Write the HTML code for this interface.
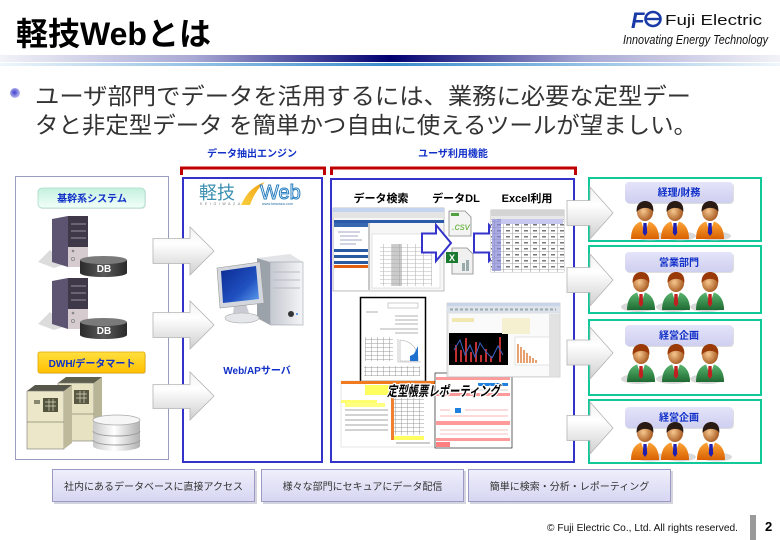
<!DOCTYPE html>
<html><head><meta charset="utf-8">
<style>
html,body{margin:0;padding:0;background:#fff;}
svg{display:block;}
text{font-family:"Liberation Sans","Noto Sans CJK JP",sans-serif;}
.bl{fill:#1030c8;font-weight:bold;font-size:10px;}
</style></head><body>
<svg width="780" height="540" viewBox="0 0 780 540" xmlns="http://www.w3.org/2000/svg">
<defs>
 <linearGradient id="bar" x1="0" x2="1" y1="0" y2="0">
  <stop offset="0" stop-color="#f2f2f8"/>
  <stop offset="0.25" stop-color="#a8a8d4"/>
  <stop offset="0.5" stop-color="#000070"/>
  <stop offset="0.75" stop-color="#a8a8d4"/>
  <stop offset="1" stop-color="#f2f2f8"/>
 </linearGradient>
 <linearGradient id="bar2" x1="0" x2="1" y1="0" y2="0">
  <stop offset="0" stop-color="#eef6fc"/>
  <stop offset="0.5" stop-color="#3a8ccc"/>
  <stop offset="1" stop-color="#eef6fc"/>
 </linearGradient>
 <radialGradient id="bul" cx="0.45" cy="0.45" r="0.6">
  <stop offset="0" stop-color="#4040d0"/>
  <stop offset="1" stop-color="#c8c8f0"/>
 </radialGradient>
 <linearGradient id="arr" x1="0" y1="0" x2="0" y2="1">
  <stop offset="0" stop-color="#f0f0f0"/>
  <stop offset="0.35" stop-color="#ffffff"/>
  <stop offset="1" stop-color="#cfcfcf"/>
 </linearGradient>
 <linearGradient id="mint" x1="0" y1="0" x2="0" y2="1">
  <stop offset="0" stop-color="#c4f0de"/>
  <stop offset="1" stop-color="#f2fffa"/>
 </linearGradient>
 <linearGradient id="gold" x1="0" y1="0" x2="0" y2="1">
  <stop offset="0" stop-color="#ffe040"/>
  <stop offset="1" stop-color="#ffbf00"/>
 </linearGradient>
 <linearGradient id="lav" x1="0" y1="0" x2="0" y2="1">
  <stop offset="0" stop-color="#e4e4fa"/>
  <stop offset="1" stop-color="#cfcff0"/>
 </linearGradient>
 <linearGradient id="btn" x1="0" y1="0" x2="0" y2="1">
  <stop offset="0" stop-color="#efeffc"/>
  <stop offset="1" stop-color="#d6d6f2"/>
 </linearGradient>
 <linearGradient id="db" x1="0" y1="0" x2="1" y2="0">
  <stop offset="0" stop-color="#2a2a2a"/>
  <stop offset="0.5" stop-color="#5a5a5a"/>
  <stop offset="1" stop-color="#2a2a2a"/>
 </linearGradient>
 <linearGradient id="disk" x1="0" y1="0" x2="1" y2="0">
  <stop offset="0" stop-color="#c8c8c8"/>
  <stop offset="0.45" stop-color="#ffffff"/>
  <stop offset="1" stop-color="#b0b0b0"/>
 </linearGradient>
 <linearGradient id="scr" x1="0" y1="0" x2="1" y2="1">
  <stop offset="0" stop-color="#0a2a90"/>
  <stop offset="0.6" stop-color="#2050c0"/>
  <stop offset="1" stop-color="#60a0f0"/>
 </linearGradient>
 <linearGradient id="twr" x1="0" y1="0" x2="1" y2="0">
  <stop offset="0" stop-color="#c4c8d0"/>
  <stop offset="1" stop-color="#f4f5f7"/>
 </linearGradient>
 <linearGradient id="org" x1="0" y1="0" x2="0" y2="1">
  <stop offset="0" stop-color="#ffa83a"/>
  <stop offset="1" stop-color="#d86000"/>
 </linearGradient>
 <linearGradient id="grn" x1="0" y1="0" x2="0" y2="1">
  <stop offset="0" stop-color="#5cb870"/>
  <stop offset="1" stop-color="#1e6a32"/>
 </linearGradient>
 <radialGradient id="skin" cx="0.4" cy="0.45" r="0.6">
  <stop offset="0" stop-color="#f6c890"/>
  <stop offset="1" stop-color="#a85a20"/>
 </radialGradient>
 <linearGradient id="swo" x1="0" y1="1" x2="1" y2="0">
  <stop offset="0" stop-color="#f8d040"/>
  <stop offset="1" stop-color="#f0a010"/>
 </linearGradient>
 <pattern id="grid" width="8" height="4" patternUnits="userSpaceOnUse">
  <rect width="8" height="4" fill="#fff"/>
  <path d="M0,3.5H8M7.5,0V4" stroke="#b8b8b8" stroke-width="0.6"/>
 </pattern>
 <pattern id="grid2" width="9" height="6" patternUnits="userSpaceOnUse">
  <rect width="9" height="6" fill="#fff"/>
  <path d="M0,5.5H9M8.5,0V6" stroke="#a8a8a8" stroke-width="0.6"/>
  <rect x="2" y="2" width="4" height="1.5" fill="#777"/>
 </pattern>
 <pattern id="grid3" width="6" height="4" patternUnits="userSpaceOnUse">
  <rect width="6" height="4" fill="#fff"/>
  <path d="M0,3.5H6M5.5,0V4" stroke="#999" stroke-width="0.5"/>
 </pattern>
 <g id="pO">
  <ellipse cx="5" cy="24" rx="16" ry="4.5" fill="#c8c8c8" opacity="0.7"/>
  <path d="M-14,27 C-14,15 -8,9 0,9 C8,9 14,15 14,27 Z" fill="url(#org)"/>
  <path d="M-4,9 L0,21 L4,9 Z" fill="#fff"/>
  <path d="M-1.6,11 L1.6,11 L2.2,21 L0,24 L-2.2,21 Z" fill="#2020b0"/>
  <ellipse cx="0" cy="0" rx="8" ry="9" fill="url(#skin)"/>
  <path d="M-8.3,0 C-9,-8 -4,-11 0,-11 C5,-11 9,-8 8.3,0 C6,-5 -4,-6 -8.3,0 Z" fill="#2a1a14"/>
 </g>
 <g id="pG">
  <ellipse cx="-3" cy="24" rx="17" ry="5" fill="#c8c8c8" opacity="0.7"/>
  <path d="M-14,27 C-14,15 -8,9 0,9 C8,9 14,15 14,27 Z" fill="url(#grn)"/>
  <path d="M-4,9 L0,21 L4,9 Z" fill="#fff"/>
  <path d="M-1.6,11 L1.6,11 L2.2,21 L0,24 L-2.2,21 Z" fill="#c02020"/>
  <ellipse cx="0" cy="0" rx="8" ry="9" fill="url(#skin)"/>
  <path d="M-8.3,0 C-9,-8 -4,-11 0,-11 C5,-11 9,-8 8.3,0 C6,-5 -4,-6 -8.3,0 Z" fill="#9a3a08"/>
 </g>
 <g id="tower">
  <polygon points="38,262 50,250 66,264 54,268" fill="#dcdcdc"/>
  <polygon points="52,219 68,216 68,267 52,262" fill="#5c5470"/>
  <rect x="68" y="216" width="20" height="51" fill="#3e3848"/>
  <rect x="68" y="247" width="20" height="20" fill="#d6cccf"/>
  <path d="M71,224H86M71,231H86M71,238H86" stroke="#9a90a0" stroke-width="1"/>
  <circle cx="73" cy="251" r="1.3" fill="#888"/>
  <circle cx="73" cy="259" r="1.6" fill="none" stroke="#888" stroke-width="0.8"/>
 </g>
 <g id="dbc">
  <rect x="80" y="260" width="47" height="13" fill="url(#db)"/>
  <ellipse cx="103.5" cy="273" rx="23.5" ry="4" fill="url(#db)"/>
  <ellipse cx="103.5" cy="260" rx="23.5" ry="4" fill="#7a7a7a"/>
  <text x="104" y="272" text-anchor="middle" font-size="10" font-weight="bold" fill="#fff">DB</text>
 </g>
</defs>

<!-- Header -->
<text x="16" y="45" font-size="32" font-weight="bold" fill="#000">軽技Webとは</text>
<rect x="0" y="55" width="780" height="7" fill="url(#bar)"/>
<rect x="0" y="63" width="780" height="3" fill="url(#bar2)"/>

<!-- Logo -->
<text x="631" y="28" font-size="22" font-weight="bold" font-style="italic" fill="#1a3aa8">F</text>
<ellipse cx="653" cy="19" rx="7.5" ry="7" fill="none" stroke="#1a3aa8" stroke-width="2.6"/>
<path d="M645,19H660" stroke="#1a3aa8" stroke-width="2.4"/>
<text x="665" y="25" font-size="15" fill="#111" textLength="97" lengthAdjust="spacingAndGlyphs">Fuji Electric</text>
<text x="623" y="44" font-size="13" font-style="italic" fill="#111" textLength="145" lengthAdjust="spacingAndGlyphs">Innovating Energy Technology</text>

<!-- Bullet -->
<circle cx="15" cy="93" r="5" fill="url(#bul)"/>
<text x="35" y="104" font-size="23" fill="#333" textLength="656" lengthAdjust="spacingAndGlyphs">ユーザ部門でデータを活用するには、業務に必要な定型デー</text>
<text x="35" y="133" font-size="23" fill="#333" textLength="662" lengthAdjust="spacingAndGlyphs">タと非定型データ を簡単かつ自由に使えるツールが望ましい。</text>

<!-- Section labels & brackets -->
<text x="252" y="157" text-anchor="middle" class="bl" font-size="9">データ抽出エンジン</text>
<text x="453" y="157" text-anchor="middle" class="bl" font-size="9">ユーザ利用機能</text>
<path d="M181.5,175V168H324.5V175" fill="none" stroke="#c00000" stroke-width="3"/>
<path d="M331.5,175V168H575.5V175" fill="none" stroke="#c00000" stroke-width="3"/>

<!-- Panels -->
<rect x="15.5" y="176.5" width="153" height="283" fill="#fff" stroke="#9a9cc0" stroke-width="1"/>
<rect x="183" y="178" width="139" height="284" fill="#fff" stroke="#3333cc" stroke-width="2"/>
<rect x="331" y="179" width="243" height="283" fill="#fff" stroke="#3333cc" stroke-width="2"/>

<!-- Left panel content -->
<rect x="39" y="189" width="107" height="20" rx="4" fill="#d8d8d8" opacity="0.6"/>
<rect x="38" y="188" width="107" height="20" rx="4" fill="url(#mint)" stroke="#a8dcc8" stroke-width="0.8"/>
<text x="92" y="202" text-anchor="middle" class="bl">基幹系システム</text>
<use href="#tower"/>
<use href="#dbc"/>
<use href="#tower" y="62"/>
<use href="#dbc" y="62"/>
<rect x="39" y="353" width="107" height="21" rx="2" fill="#d0d0d0" opacity="0.6"/>
<rect x="38" y="352" width="107" height="21" rx="2" fill="url(#gold)" stroke="#e0a800" stroke-width="0.8"/>
<text x="92" y="367" text-anchor="middle" class="bl">DWH/データマート</text>
<!-- cabinets -->
<polygon points="58,383 66,377 102,377 94,383" fill="#5e5e4c"/>
<rect x="58" y="383" width="36" height="58" fill="#e6e2c2" stroke="#777" stroke-width="0.6"/>
<polygon points="94,383 102,377 102,436 94,441" fill="#b8b496"/>
<rect x="74" y="390" width="15" height="14" fill="#5a5a44"/>
<path d="M76,394H87M76,398H87M80,391V403M84,391V403" stroke="#d8d8c0" stroke-width="0.7"/>
<path d="M58,414H94" stroke="#8a8870" stroke-width="0.8"/>
<polygon points="27,391 35,385 72,385 64,391" fill="#56564a"/>
<rect x="27" y="391" width="37" height="58" fill="#ebe7c8" stroke="#777" stroke-width="0.6"/>
<polygon points="64,391 72,385 72,443 64,449" fill="#bdb99a"/>
<rect x="43" y="398" width="15" height="14" fill="#55553f"/>
<path d="M45,402H56M45,406H56M49,399V411M53,399V411" stroke="#d8d8c0" stroke-width="0.7"/>
<path d="M27,422H64" stroke="#8a8870" stroke-width="0.8"/>
<rect x="34" y="400" width="6" height="4" fill="#888870"/>
<!-- disk -->
<rect x="93" y="420" width="47" height="26" fill="url(#disk)"/>
<ellipse cx="116.5" cy="446" rx="23.5" ry="5" fill="url(#disk)"/>
<path d="M93,431 A23.5,5 0 0 0 140,431 M93,440 A23.5,5 0 0 0 140,440" fill="none" stroke="#999" stroke-width="0.9"/>
<ellipse cx="116.5" cy="420" rx="23.5" ry="5" fill="#f6f6f6" stroke="#aaa" stroke-width="0.8"/>

<!-- Middle panel content -->
<text x="199" y="199" font-size="18" fill="#3a8fb0">軽技</text>
<text x="200" y="205" font-size="3.5" fill="#777" letter-spacing="2.6">KEIGIWAZA</text>
<path d="M241,205 C246,195 251,187 265,182 C257,189 253,197 250,205 Z" fill="url(#swo)"/>
<text x="260" y="199" font-size="20" fill="#fff" stroke="#2a80c0" stroke-width="1">Web</text>
<text x="262" y="205" font-size="3.8" fill="#2a70a0">www.keiwaza.com</text>
<!-- computer -->
<polygon points="257,258 290,254 303,262 270,262" fill="#e2e4e8"/>
<polygon points="257,258 270,262 270,325 257,318" fill="#9ca2aa"/>
<rect x="270" y="262" width="33" height="63" fill="url(#twr)" stroke="#a0a4aa" stroke-width="0.6"/>
<path d="M273,272H300M273,280H300M273,288H300" stroke="#b8bcc4" stroke-width="1"/>
<circle cx="291" cy="314" r="3" fill="#333"/>
<circle cx="297" cy="314" r="1" fill="#3a80e0"/>
<polygon points="234,305 246,304 249,313 233,314" fill="#c8ccd2"/>
<ellipse cx="242" cy="318" rx="17" ry="5" fill="#e4e6ea" stroke="#aaa" stroke-width="0.6"/>
<polygon points="217,268 260,262 264,303 220,308" fill="#d4d8de" stroke="#999" stroke-width="0.6"/>
<polygon points="221,271 256,266 259,299 223,303" fill="url(#scr)"/>
<text x="257" y="374" text-anchor="middle" class="bl">Web/APサーバ</text>

<!-- Right panel content -->
<text x="381" y="202" text-anchor="middle" font-size="11" font-weight="bold" fill="#000">データ検索</text>
<text x="456" y="202" text-anchor="middle" font-size="11" font-weight="bold" fill="#000">データDL</text>
<text x="527" y="202" text-anchor="middle" font-size="11" font-weight="bold" fill="#000">Excel利用</text>
<!-- screenshot 1 -->
<rect x="333" y="208" width="111" height="83" fill="#f6f6f6" stroke="#999" stroke-width="0.6"/>
<rect x="333" y="208" width="111" height="4" fill="#c4d4ee"/>
<rect x="333" y="212" width="111" height="6" fill="#e4e4e4"/>
<rect x="334" y="220" width="110" height="3" fill="#2a5aa8"/>
<rect x="334" y="223" width="34" height="67" fill="#fff"/>
<rect x="334" y="223" width="34" height="4" fill="#3a68b0"/>
<path d="M338,232H360M340,236H358M340,240H362M340,244H356" stroke="#a0a8c0" stroke-width="1"/>
<rect x="334" y="249" width="34" height="3" fill="#2a5aa0"/>
<rect x="334" y="255" width="34" height="3" fill="#2a5aa0"/>
<rect x="334" y="261" width="34" height="3" fill="#2a5aa0"/>
<rect x="334" y="265" width="34" height="3" fill="#e06010"/>
<rect x="368" y="223" width="2" height="67" fill="#c8c8c8"/>
<rect x="372" y="234" width="68" height="54" fill="#fff" stroke="#ccc" stroke-width="0.5"/>
<rect x="380" y="244" width="52" height="42" fill="url(#grid)"/>
<rect x="392" y="244" width="10" height="42" fill="#a0a0a0" opacity="0.55"/>
<!-- blue arrows -->
<polygon points="422,233.5 436,233.5 436,225 451,243 436,261 436,252.5 422,252.5" fill="#fff" stroke="#3333cc" stroke-width="2"/>
<polygon points="474,233.5 489,233.5 489,225 506,243 489,261 489,252.5 474,252.5" fill="#fff" stroke="#3333cc" stroke-width="2"/>
<!-- csv icon -->
<path d="M449,211 H465 L471,217 V236 H449 Z" fill="#f4f4f4" stroke="#888" stroke-width="0.8"/>
<rect x="451" y="213" width="8" height="3" fill="#50a040"/>
<text x="452" y="230" font-size="10" font-style="italic" fill="#60b030">.csv</text>
<!-- excel icon -->
<path d="M452,248 H467 L473,254 V274 H452 Z" fill="#f0f0f0" stroke="#888" stroke-width="0.8"/>
<rect x="446" y="252" width="12" height="11" fill="#1a7a30"/>
<text x="449" y="261" font-size="9" font-weight="bold" fill="#fff">X</text>
<rect x="462" y="263" width="3" height="8" fill="#9aa"/><rect x="466" y="260" width="3" height="11" fill="#9aa"/>
<!-- spreadsheet -->
<rect x="491" y="210" width="73" height="62" fill="#fff" stroke="#999" stroke-width="0.6"/>
<rect x="491" y="210" width="73" height="6" fill="#d4d4d4"/>
<rect x="491" y="216" width="73" height="3" fill="#e8e8e8"/>
<rect x="491" y="219" width="73" height="53" fill="url(#grid2)"/>
<rect x="492" y="219" width="9" height="52" fill="#8888d8" opacity="0.7"/>
<rect x="501" y="219" width="62" height="5" fill="#c8c8f0"/>
<!-- report doc -->
<rect x="360.5" y="297.5" width="65" height="84" fill="#fff" stroke="#000" stroke-width="1.5"/>
<rect x="388" y="303" width="30" height="5" fill="none" stroke="#999" stroke-width="0.5"/>
<path d="M366,312H378M395,316H418M395,320H418M395,324H418M380,329H418M395,333H418" stroke="#999" stroke-width="0.8"/>
<rect x="365" y="337" width="28" height="24" fill="url(#grid3)"/>
<path d="M398,339V362H421" fill="none" stroke="#aaa" stroke-width="0.6"/>
<path d="M400,340 C410,341 416,346 418,356 V361 H400 Z" fill="none" stroke="#aaa" stroke-width="0.6"/>
<path d="M410,361 V356 L414,354 L418,346 V361 Z" fill="#2070d0"/>
<rect x="364" y="366" width="56" height="10" fill="url(#grid3)"/>
<!-- yellow report -->
<rect x="341" y="381" width="94" height="66" fill="#fff" stroke="#ccc" stroke-width="0.5"/>
<rect x="341" y="381" width="94" height="3" fill="#f07a20"/>
<rect x="365" y="385" width="24" height="10" fill="#ffff60"/>
<rect x="341" y="400" width="36" height="3" fill="#ffff70"/>
<rect x="391" y="395" width="3" height="45" fill="#f08030"/>
<rect x="394" y="395" width="30" height="40" fill="url(#grid3)"/>
<path d="M345,410H388M345,415H388M345,420H388M345,425H388M345,430H388" stroke="#888" stroke-width="0.7"/>
<rect x="345" y="403" width="40" height="4" fill="#ffff80"/>
<rect x="394" y="436" width="30" height="4" fill="#ffff60"/>
<path d="M396,443H430" stroke="#999" stroke-width="1"/>
<!-- red report -->
<rect x="435" y="373" width="77" height="75" fill="#fff" stroke="#000" stroke-width="0.6"/>
<rect x="436" y="377" width="74" height="3" fill="#ff9a9a"/>
<rect x="478" y="383" width="30" height="3" fill="#2080e0"/>
<path d="M438,390H508" stroke="#ccc" stroke-width="1"/>
<rect x="436" y="393" width="74" height="3" fill="#ff9a9a"/>
<rect x="455" y="408" width="6" height="5" fill="#2080e0"/>
<path d="M440,410H450M465,410H508M440,416H508" stroke="#f0a0a0" stroke-width="0.8"/>
<rect x="436" y="421" width="74" height="4" fill="#ff9a9a"/>
<path d="M440,430H508M440,434H508" stroke="#f0b0b0" stroke-width="0.8"/>
<rect x="436" y="438" width="74" height="3" fill="#ff9a9a"/>
<rect x="436" y="442" width="14" height="5" fill="#ff8080"/>
<!-- chart screenshot -->
<rect x="447" y="303" width="113" height="74" fill="#ececec" stroke="#bbb" stroke-width="0.6"/>
<rect x="447" y="303" width="113" height="3" fill="#c8d4e8"/>
<rect x="447" y="306" width="113" height="7" fill="#dde2ea"/>
<path d="M450,309.5H556" stroke="#9aa" stroke-width="2" stroke-dasharray="3,2"/>
<rect x="449" y="314" width="100" height="62" fill="#fafafa"/>
<rect x="452" y="318" width="22" height="4" fill="#f0e8b0"/>
<rect x="449" y="333" width="59" height="32" fill="#000"/>
<path d="M456,362V345M461,362V350M466,362V338M471,362V352M476,362V342M481,362V355M486,362V349M491,362V356M500,362V337" stroke="#c03030" stroke-width="2"/>
<polyline points="454,350 460,340 465,355 470,345 475,357 480,343 486,352 492,358 498,346 503,355" fill="none" stroke="#3a60c0" stroke-width="1"/>
<rect x="502" y="318" width="28" height="16" fill="#f4f0d0"/>
<rect x="515" y="337" width="37" height="28" fill="#fff" stroke="#ccc" stroke-width="0.5"/>
<path d="M518,363V344M521,363V347M524,363V350M527,363V353M530,363V356M533,363V358M536,363V360" stroke="#e8a070" stroke-width="2"/>
<rect x="549" y="314" width="10" height="62" fill="#e2e2e2"/>
<!-- reporting label -->
<text x="387" y="396" font-size="14" font-weight="bold" font-style="italic" fill="#000" stroke="#fff" stroke-width="2.5" paint-order="stroke" textLength="113" lengthAdjust="spacingAndGlyphs">定型帳票レポーティング</text>

<!-- Left arrows -->
<polygon points="153,238.5 190,238.5 190,227 214,251 190,275 190,263.5 153,263.5" fill="url(#arr)" stroke="#b4b4b4" stroke-width="0.8"/>
<polygon points="153,312.5 190,312.5 190,301 214,325 190,349 190,337.5 153,337.5" fill="url(#arr)" stroke="#b4b4b4" stroke-width="0.8"/>
<polygon points="153,384.5 190,384.5 190,372 214,396 190,420 190,408.5 153,408.5" fill="url(#arr)" stroke="#b4b4b4" stroke-width="0.8"/>

<!-- Right groups -->
<rect x="589" y="178" width="172" height="63" fill="#fff" stroke="#10c898" stroke-width="2"/>
<rect x="589" y="246" width="172" height="67" fill="#fff" stroke="#10c898" stroke-width="2"/>
<rect x="589" y="320" width="172" height="75" fill="#fff" stroke="#10c898" stroke-width="2"/>
<rect x="589" y="400" width="172" height="63" fill="#fff" stroke="#10c898" stroke-width="2"/>

<rect x="626" y="183" width="108" height="21" rx="4" fill="#c8c8c8" opacity="0.6"/>
<rect x="625" y="182" width="108" height="21" rx="4" fill="url(#lav)"/>
<text x="679" y="196" text-anchor="middle" class="bl">経理/財務</text>
<rect x="626" y="253" width="108" height="20" rx="4" fill="#c8c8c8" opacity="0.6"/>
<rect x="625" y="252" width="108" height="20" rx="4" fill="url(#lav)"/>
<text x="679" y="266" text-anchor="middle" class="bl">営業部門</text>
<rect x="626" y="326" width="108" height="21" rx="4" fill="#c8c8c8" opacity="0.6"/>
<rect x="625" y="325" width="108" height="21" rx="4" fill="url(#lav)"/>
<text x="679" y="339" text-anchor="middle" class="bl">経営企画</text>
<rect x="626" y="408" width="108" height="21" rx="4" fill="#c8c8c8" opacity="0.6"/>
<rect x="625" y="407" width="108" height="21" rx="4" fill="url(#lav)"/>
<text x="679" y="421" text-anchor="middle" class="bl">経営企画</text>

<use href="#pO" transform="translate(645,212)"/>
<use href="#pO" transform="translate(675,212)"/>
<use href="#pO" transform="translate(710,212)"/>
<use href="#pG" transform="translate(641,283)"/>
<use href="#pG" transform="translate(676,283)"/>
<use href="#pG" transform="translate(710,283)"/>
<use href="#pG" transform="translate(641,355)"/>
<use href="#pG" transform="translate(676,355)"/>
<use href="#pG" transform="translate(710,355)"/>
<use href="#pO" transform="translate(645,433)"/>
<use href="#pO" transform="translate(675,433)"/>
<use href="#pO" transform="translate(711,433)"/>

<!-- Right arrows -->
<polygon points="567,200.5 590,200.5 590,187 613,213 590,239 590,225.5 567,225.5" fill="url(#arr)" stroke="#b4b4b4" stroke-width="0.8"/>
<polygon points="567,267.5 590,267.5 590,254 613,280 590,306 590,292.5 567,292.5" fill="url(#arr)" stroke="#b4b4b4" stroke-width="0.8"/>
<polygon points="567,340 590,340 590,327 613,353 590,379 590,365 567,365" fill="url(#arr)" stroke="#b4b4b4" stroke-width="0.8"/>
<polygon points="567,415.5 590,415.5 590,402 613,428 590,454 590,440.5 567,440.5" fill="url(#arr)" stroke="#b4b4b4" stroke-width="0.8"/>

<!-- Bottom buttons -->
<rect x="54" y="471" width="203" height="33" fill="#b8b8c8" opacity="0.6"/>
<rect x="52.5" y="469.5" width="202" height="32" fill="url(#btn)" stroke="#9a9ac4" stroke-width="1"/>
<text x="153.5" y="490" text-anchor="middle" font-size="10" fill="#333">社内にあるデータベースに直接アクセス</text>
<rect x="263" y="471" width="203" height="33" fill="#b8b8c8" opacity="0.6"/>
<rect x="261.5" y="469.5" width="202" height="32" fill="url(#btn)" stroke="#9a9ac4" stroke-width="1"/>
<text x="362.5" y="490" text-anchor="middle" font-size="10" fill="#333">様々な部門にセキュアにデータ配信</text>
<rect x="470" y="471" width="203" height="33" fill="#b8b8c8" opacity="0.6"/>
<rect x="468.5" y="469.5" width="202" height="32" fill="url(#btn)" stroke="#9a9ac4" stroke-width="1"/>
<text x="569.5" y="490" text-anchor="middle" font-size="10" fill="#333">簡単に検索・分析・レポーティング</text>

<!-- Footer -->
<text x="547" y="531" font-size="10" fill="#111" textLength="191" lengthAdjust="spacingAndGlyphs">© Fuji Electric Co., Ltd. All rights reserved.</text>
<rect x="750" y="515" width="6" height="25" fill="#9a9a9a"/>
<text x="765" y="531" font-size="13" font-weight="bold" fill="#000">2</text>
</svg>
</body></html>
